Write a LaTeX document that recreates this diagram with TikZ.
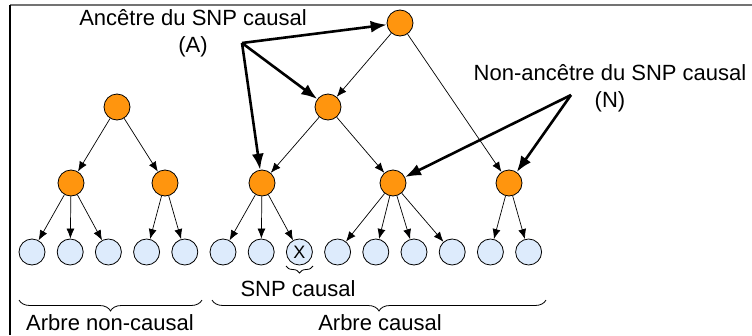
\documentclass[tikz,border=0pt]{standalone}
\usepackage{fontspec}
\setmainfont{Liberation Sans}
\usepackage{tikz}
\usetikzlibrary{positioning,decorations.pathreplacing}
\usetikzlibrary{arrows.meta}

\definecolor{snporange}{RGB}{255,149,14}
\definecolor{leafblue}{RGB}{221,235,252}
\definecolor{framegray}{RGB}{115,115,115}

\tikzset{
	ancnode/.style={circle, draw=black, fill=snporange, minimum size=26pt, inner sep=0pt, line width=0.8pt},
	leafnode/.style={circle, draw=black, fill=leafblue, minimum size=26pt, inner sep=0pt, line width=0.8pt},
	treearrow/.style={draw, line width=0.7pt, -{Latex[length=10pt,width=8pt]}},
	bigarrow/.style={draw, line width=2.6pt, -{Latex[length=16pt,width=12pt]}},
	bracebelow/.style={draw, line width=0.8pt, decorate, decoration={brace, mirror, amplitude=#1}}
}

\begin{document}
\begin{tikzpicture}[x=1pt, y=-1pt, node distance=38.2pt, font=\fontsize{22}{27}\selectfont]
	\useasboundingbox (0,0) rectangle (752,335);
	\draw[framegray, line width=1.3pt] (10,5) -- (752,5);
	\draw[black, line width=1.3pt] (10,5) -- (10,335);
	
	% arbre non-causal
	\node[ancnode] (ncroot) at (117,107) {};
	\node[ancnode] (nca) at (71,183) {};
	\node[ancnode] (ncb) at (165,183) {};
	
	% arbre causal
	\node[ancnode] (croot) at (400,23) {};
	\node[ancnode] (cmid) at (328,107) {};
	\node[ancnode] (ca) at (262,183) {};
	\node[ancnode] (cb) at (393,183) {};
	\node[ancnode] (cc) at (509,183) {};
	
	% feuilles
	\node[leafnode] (l1) at (32,252) {};
	\node[leafnode, right of=l1] (l2) {};
	\node[leafnode, right of=l2] (l3) {};
	\node[leafnode, right of=l3] (l4) {};
	\node[leafnode, right of=l4] (l5) {};
	\node[leafnode, right of=l5] (l6) {};
	\node[leafnode, right of=l6] (l7) {};
	\node[leafnode, right of=l7, font=\fontsize{18}{18}\selectfont] (l8) {X};
	\node[leafnode, right of=l8] (l9) {};
	\node[leafnode, right of=l9] (l10) {};
	\node[leafnode, right of=l10] (l11) {};
	\node[leafnode, right of=l11] (l12) {};
	\node[leafnode, right of=l12] (l13) {};
	\node[leafnode, right of=l13] (l14) {};
	
	\path[treearrow] (ncroot) -- (nca);
	\path[treearrow] (ncroot) -- (ncb);
	\path[treearrow] (nca) -- (l1);
	\path[treearrow] (nca) -- (l2);
	\path[treearrow] (nca) -- (l3);
	\path[treearrow] (ncb) -- (l4);
	\path[treearrow] (ncb) -- (l5);
	
	\path[treearrow] (croot) -- (cmid);
	\path[treearrow] (croot) -- (cc);
	\path[treearrow] (cmid) -- (ca);
	\path[treearrow] (cmid) -- (cb);
	\path[treearrow] (ca) -- (l6);
	\path[treearrow] (ca) -- (l7);
	\path[treearrow] (ca) -- (l8);
	\path[treearrow] (cb) -- (l9);
	\path[treearrow] (cb) -- (l10);
	\path[treearrow] (cb) -- (l11);
	\path[treearrow] (cb) -- (l12);
	\path[treearrow] (cc) -- (l13);
	\path[treearrow] (cc) -- (l14);
	
	% etiquettes
	\node[align=center] (ancA) at (193,33) {Ancêtre du SNP causal\\(A)};
	\node[align=center] (nonN) at (610,88) {Non-ancêtre du SNP causal\\(N)};
	\coordinate (fromA) at (242,43);
	\coordinate (fromN) at (571,95);
	
	\path[bigarrow] (fromA) -- (croot);
	\path[bigarrow] (fromA) -- (cmid);
	\path[bigarrow] (fromA) -- (ca);
	\path[bigarrow] (fromN) -- (cb);
	\path[bigarrow] (fromN) -- (cc);
	
	% accolades
	\path[bracebelow=7pt] (286,266) -- (313,266);
	\node (snp) at (298,289) {SNP causal};
	\path[bracebelow=11pt] (19,300) -- (202,300);
	\node (ncarbre) at (110,323) {Arbre non-causal};
	\path[bracebelow=11pt] (212,300) -- (546,300);
	\node (carbre) at (380,323) {Arbre causal};
\end{tikzpicture}
\end{document}
